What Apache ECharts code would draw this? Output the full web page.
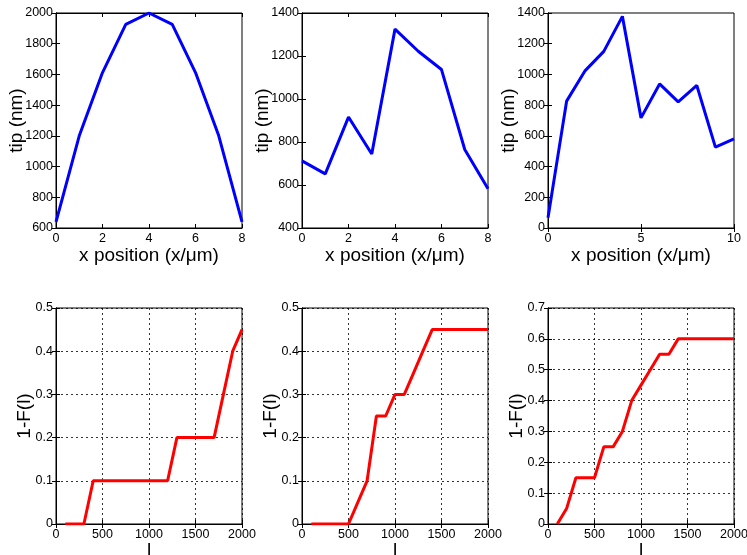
<!DOCTYPE html>
<html>
<head>
<meta charset="utf-8">
<script src="https://cdn.jsdelivr.net/npm/echarts@6/dist/echarts.min.js"></script>
<style>
  html, body { margin: 0; padding: 0; background: #fff; }
  #chart { width: 747px; height: 555px; }
</style>
</head>
<body>
<div id="chart"></div>
<script>
// top row: tip length vs position
const xPos8 = [0, 1, 2, 3, 4, 5, 6, 7, 8];
const xPos10 = [0, 1, 2, 3, 4, 5, 6, 7, 8, 9, 10];
const tipA = [640, 1200, 1612, 1926, 2000, 1926, 1612, 1200, 640];
const tipB = [712, 652, 916, 744, 1325, 1222, 1137, 765, 583];
const tipC = [67, 826, 1025, 1150, 1378, 717, 938, 821, 928, 527, 581];

// bottom row: 1-F(l)
const lVals = [100, 200, 300, 400, 500, 600, 700, 800, 900, 1000,
               1100, 1200, 1300, 1400, 1500, 1600, 1700, 1800, 1900, 2000];
const cdfA = [0, 0, 0, 0.1, 0.1, 0.1, 0.1, 0.1, 0.1, 0.1,
              0.1, 0.1, 0.2, 0.2, 0.2, 0.2, 0.2, 0.3, 0.4, 0.45];
const cdfB = [0, 0, 0, 0, 0, 0.05, 0.1, 0.25, 0.25, 0.3,
              0.3, 0.35, 0.4, 0.45, 0.45, 0.45, 0.45, 0.45, 0.45, 0.45];
const cdfC = [0, 0.05, 0.15, 0.15, 0.15, 0.25, 0.25, 0.3, 0.4, 0.45,
              0.5, 0.55, 0.55, 0.6, 0.6, 0.6, 0.6, 0.6, 0.6, 0.6];

const FONT = 'Liberation Sans, Arial, Helvetica, sans-serif';

const panels = [
  { left: 56, top: 13, height: 215, x: xPos8, y: tipA, xmin: 0, xmax: 8, xint: 2, ymin: 600, ymax: 2000, yint: 200, color: '#0000ff', xname: 'x position (x/\u03bcm)', yname: 'tip (nm)', grid: false },
  { left: 302, top: 13, height: 215, x: xPos8, y: tipB, xmin: 0, xmax: 8, xint: 2, ymin: 400, ymax: 1400, yint: 200, color: '#0000ff', xname: 'x position (x/\u03bcm)', yname: 'tip (nm)', grid: false },
  { left: 548, top: 13, height: 215, x: xPos10, y: tipC, xmin: 0, xmax: 10, xint: 5, ymin: 0, ymax: 1400, yint: 200, color: '#0000ff', xname: 'x position (x/\u03bcm)', yname: 'tip (nm)', grid: false },
  { left: 56, top: 308, height: 216, x: lVals, y: cdfA, xmin: 0, xmax: 2000, xint: 500, ymin: 0, ymax: 0.5, yint: 0.1, color: '#ff0000', xname: 'l', yname: '1-F(l)', grid: true },
  { left: 302, top: 308, height: 216, x: lVals, y: cdfB, xmin: 0, xmax: 2000, xint: 500, ymin: 0, ymax: 0.5, yint: 0.1, color: '#ff0000', xname: 'l', yname: '1-F(l)', grid: true },
  { left: 548, top: 308, height: 216, x: lVals, y: cdfC, xmin: 0, xmax: 2000, xint: 500, ymin: 0, ymax: 0.7, yint: 0.1, color: '#ff0000', xname: 'l', yname: '1-F(l)', grid: true }
];

const grids = [], xAxes = [], yAxes = [], series = [];
const tickStyle = { show: true, inside: true, length: 4, lineStyle: { color: '#000' } };
const lineStyle = { show: true, lineStyle: { color: '#000', width: 1 } };
const dotted = { show: true, lineStyle: { color: '#000', type: [2, 3], width: 0.8 } };
const plain = v => String(Math.round(v * 1000) / 1000);

panels.forEach((p, i) => {
  grids.push({ left: p.left, top: p.top, width: 186, height: p.height,
               outerBoundsMode: 'none', containLabel: false,
               show: true, borderColor: '#000', borderWidth: 1, backgroundColor: '#fff' });
  // main axes
  xAxes.push({
    gridIndex: i, type: 'value', min: p.xmin, max: p.xmax, interval: p.xint,
    position: 'bottom', axisLine: lineStyle, axisTick: tickStyle,
    splitLine: p.grid ? dotted : { show: false },
    axisLabel: { color: '#000', fontFamily: FONT, fontSize: 12.5, margin: 4,
                 formatter: plain, showMinLabel: true, showMaxLabel: true },
    name: p.xname, nameLocation: 'middle', nameGap: p.grid ? 17 : 18, nameMoveOverlap: false,
    nameTextStyle: { color: '#000', fontFamily: FONT, fontSize: 19 }
  });
  yAxes.push({
    gridIndex: i, type: 'value', min: p.ymin, max: p.ymax, interval: p.yint,
    position: 'left', axisLine: lineStyle, axisTick: tickStyle,
    splitLine: p.grid ? dotted : { show: false },
    axisLabel: { color: '#000', fontFamily: FONT, fontSize: 12.5, margin: 3, formatter: plain },
    name: p.yname, nameLocation: 'middle', nameGap: p.grid ? 22 : 30, nameMoveOverlap: false,
    nameTextStyle: { color: '#000', fontFamily: FONT, fontSize: 19 }
  });
  series.push({
    type: 'line', xAxisIndex: xAxes.length - 1, yAxisIndex: yAxes.length - 1,
    data: p.x.map((v, k) => [v, p.y[k]]),
    showSymbol: false, symbol: 'none', animation: false, clip: true,
    lineStyle: { color: p.color, width: 3 }
  });
  // mirrored ticks on top and right
  xAxes.push({
    gridIndex: i, type: 'value', min: p.xmin, max: p.xmax, interval: p.xint,
    position: 'top', axisLine: lineStyle, axisTick: tickStyle,
    splitLine: { show: false }, axisLabel: { show: false }
  });
  yAxes.push({
    gridIndex: i, type: 'value', min: p.ymin, max: p.ymax, interval: p.yint,
    position: 'right', axisLine: lineStyle, axisTick: tickStyle,
    splitLine: { show: false }, axisLabel: { show: false }
  });
});

const chart = echarts.init(document.getElementById('chart'), null, { renderer: 'canvas' });
chart.setOption({
  backgroundColor: '#fff',
  animation: false,
  grid: grids,
  xAxis: xAxes,
  yAxis: yAxes,
  series: series
});
</script>
</body>
</html>
